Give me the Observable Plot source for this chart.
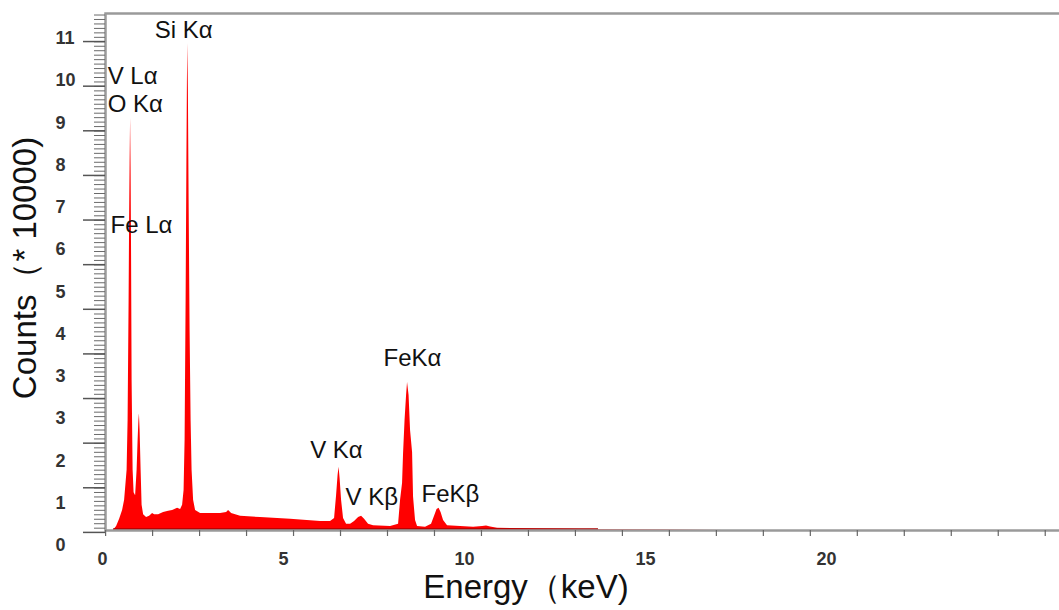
<!DOCTYPE html>
<html><head><meta charset="utf-8">
<script src="https://cdn.jsdelivr.net/npm/d3@7"></script>
<script src="https://cdn.jsdelivr.net/npm/@observablehq/plot@0.6"></script>
<style>html,body{margin:0;padding:0;background:#fff;overflow:hidden} svg{display:block}</style>
</head><body><div id="chart"></div>
<script>
// Spectrum (x in axis-label units, y in axis-label index units)
const energy = [0.304,0.387,0.470,0.552,0.608,0.649,0.677,0.704,0.732,0.746,
  0.760,0.773,0.787,0.801,0.815,0.843,0.870,0.912,0.953,0.981,
  1.003,1.017,1.036,1.064,1.091,1.133,1.215,1.298,1.381,1.436,
  1.547,1.685,1.823,1.934,2.072,2.155,2.210,2.251,2.279,2.307,
  2.329,2.343,2.354,2.370,2.390,2.417,2.445,2.472,2.514,2.569,
  2.707,2.983,3.260,3.425,3.481,3.564,3.812,4.365,5.193,6.022,
  6.298,6.409,6.464,6.506,6.533,6.561,6.602,6.657,6.740,6.851,
  6.961,7.072,7.155,7.238,7.348,7.486,7.956,8.177,8.232,8.287,
  8.315,8.356,8.398,8.425,8.467,8.508,8.564,8.591,8.646,8.702,
  8.923,9.088,9.171,9.240,9.296,9.351,9.420,9.530,9.890,10.249,
  10.497,10.608,10.718,10.912,12.099,13.757,15.5,17.2];
const counts = [0.36,0.45,0.62,0.83,1.07,1.49,1.78,2.96,5.80,7.69,
  9.04,10.11,8.88,6.75,3.91,1.78,1.25,1.18,1.78,2.49,
  2.96,3.12,2.72,1.78,0.95,0.73,0.66,0.69,0.76,0.73,
  0.73,0.78,0.81,0.83,0.88,0.85,0.95,1.30,2.49,5.80,
  9.11,10.96,11.88,10.77,8.17,5.09,2.96,1.78,1.07,0.83,
  0.76,0.76,0.76,0.78,0.83,0.76,0.69,0.66,0.62,0.57,
  0.57,0.64,1.18,1.66,1.85,1.59,1.07,0.64,0.50,0.50,
  0.57,0.66,0.69,0.62,0.50,0.47,0.45,0.50,1.07,1.47,
  2.18,2.96,3.55,3.86,3.55,2.72,2.20,1.14,0.59,0.45,
  0.43,0.50,0.69,0.85,0.88,0.78,0.59,0.47,0.45,0.43,
  0.45,0.46,0.44,0.41,0.39,0.375,0.365,0.355];

// Axis tick labels
const yTickLabels = ["0","1","2","3","3","4","5","6","7","8","9","10","11"];
const xTickLabels = [0, 5, 10, 15, 20];

// Peak annotations
const peakNames  = ["Si Kα","V Lα","O Kα","Fe Lα","FeKα","V Kα","V Kβ","FeKβ"];
const peakX      = [2.24, 0.14, 0.14, 0.22, 8.56, 6.46, 6.71, 8.81];
const peakY      = [12.19, 11.10, 10.44, 7.57, 4.43, 2.25, 1.14, 1.21];
const peakAnchor = ["middle","start","start","start","middle","middle","start","start"];

const spectrum = energy.map((e, i) => ({energy: e, counts: counts[i]}));
const peaks = peakNames.map((t, i) => ({name: t, x: peakX[i], y: peakY[i], anchor: peakAnchor[i]}));
const yLabelRows = yTickLabels.map((t, i) => ({label: t, pos: i}));

const yDomain = [0.355, 12.59];
const xDomain = [0.08, 26.52];
const yMajor = d3.range(0.31, 12.5, 1.056);
const yMinor = d3.range(0.41, 12.59, 0.1056);
const xMinor = d3.range(0.083, 26.5, 1.298);

const font = "'Liberation Sans', Arial, Helvetica, sans-serif";

const chart = Plot.plot({
  width: 1059, height: 610,
  marginLeft: 105, marginRight: -3, marginTop: 13, marginBottom: 80,
  style: {fontFamily: font, background: "#fff", overflow: "hidden"},
  x: {domain: xDomain, label: null},
  y: {domain: yDomain, label: null},
  marks: [
    Plot.areaY(spectrum, {x: "energy", y: "counts", fill: "#ff0000", clip: true}),
    Plot.ruleY([yDomain[0]], {x1: energy[0], x2: 13.7, stroke: "#a80000", strokeWidth: 2.5, dy: -1}),
    Plot.frame({stroke: "#9a9a9a", strokeWidth: 2.5}),
    Plot.axisY({ticks: yMinor, tickSize: 11, tickFormat: () => "", stroke: "#6a6a6a", strokeWidth: 1, label: null}),
    Plot.axisY({ticks: yMajor, tickSize: 22, tickFormat: () => "", stroke: "#555", strokeWidth: 1.5, label: null}),
    Plot.axisX({ticks: xMinor, tickSize: 6, tickFormat: () => "", stroke: "#666", strokeWidth: 1.2, label: null}),
    // tick labels
    Plot.text(yLabelRows, {y: "pos", text: "label", frameAnchor: "left", dx: -50, textAnchor: "start", lineAnchor: "middle",
      fontSize: 18, fontWeight: "bold", fill: "#333"}),
    Plot.text(xTickLabels, {x: (d) => d, text: (d) => String(d), frameAnchor: "bottom", dy: 29, textAnchor: "middle", lineAnchor: "middle",
      fontSize: 18, fontWeight: "bold", fill: "#333"}),
    // peak annotations
    Plot.text(peaks.filter(d => d.anchor === "middle"), {x: "x", y: "y", text: "name", textAnchor: "middle", fontSize: 24, fill: "#111"}),
    Plot.text(peaks.filter(d => d.anchor === "start"), {x: "x", y: "y", text: "name", textAnchor: "start", fontSize: 24, fill: "#111"}),
    // axis titles
    Plot.text(["Counts（* 10000)"], {frameAnchor: "left", textAnchor: "middle", lineAnchor: "middle", rotate: -90, dx: -80, dy: -4, fontSize: 33, fill: "#111"}),
    Plot.text(["Energy（keV)"], {frameAnchor: "bottom", textAnchor: "middle", lineAnchor: "middle", dx: -58, dy: 57, fontSize: 33, fill: "#111"})
  ]
});
document.getElementById("chart").appendChild(chart);
</script>
</body></html>
